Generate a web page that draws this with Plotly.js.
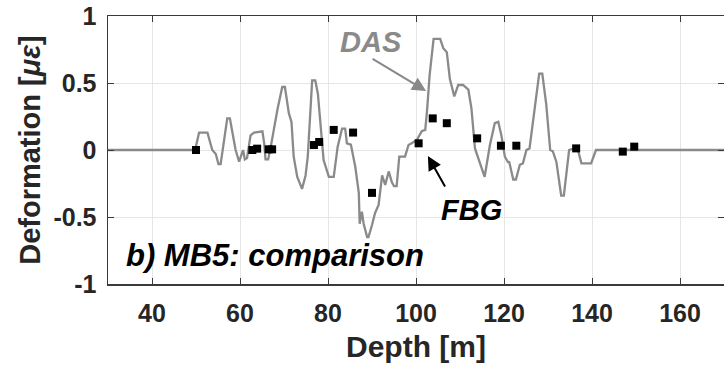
<!DOCTYPE html>
<html>
<head>
<meta charset="utf-8">
<script src="https://cdn.plot.ly/plotly-3.0.1.min.js"></script>
<style>html,body{margin:0;padding:0;background:#fff;}#chart{width:724px;height:370px;}</style>
</head>
<body>
<div id="chart"></div>
<script>
// DAS profile: depth [m] and deformation [µε]
const dasDepth = [30,49.8,50.7,52.6,53.7,54.5,55.1,55.6,57.1,57.7,59.0,59.8,60.7,61.1,61.6,62.4,63.2,65.1,65.5,65.8,66.4,67.0,68.5,69.6,70.2,71.1,71.7,72.2,73.0,74.1,74.9,75.4,76.4,77.1,77.7,78.3,79.0,80.2,81.3,82.2,83.2,83.9,84.3,85.2,86.2,87.0,87.2,87.7,88.1,88.9,89.2,90.0,90.7,91.5,92.3,93.0,93.8,94.5,95.0,95.6,96.2,97.5,98.3,99.0,100.2,101.3,102.1,102.5,103.1,104.0,105.5,106.2,107.0,107.7,108.7,109.6,110.7,111.9,112.6,113.4,114.5,115.6,116.8,117.9,118.7,119.4,120.2,120.9,121.2,122.1,122.7,123.6,124.3,125.1,125.8,127.0,128.0,128.7,129.6,130.5,131.1,131.9,132.6,133.0,133.6,134.2,134.8,135.7,136.8,137.6,139.8,140.9,170];
const dasValue = [0,0,0.13,0.13,0.0,-0.03,-0.105,-0.105,0.236,0.236,0.0,-0.087,0.0,-0.07,-0.06,0.11,0.13,0.14,0.05,-0.07,-0.07,0.025,0.3,0.47,0.47,0.275,0.21,-0.05,-0.2,-0.29,-0.19,-0.05,0.52,0.52,0.42,0.17,-0.075,-0.2,-0.2,0.025,0.16,0.16,0.05,0.04,-0.125,-0.32,-0.55,-0.46,-0.55,-0.65,-0.65,-0.56,-0.47,-0.41,-0.19,-0.26,-0.16,-0.24,-0.27,-0.27,-0.05,-0.05,0.037,0.05,0.075,0.14,0.15,0.29,0.56,0.83,0.83,0.76,0.73,0.53,0.4,0.485,0.485,0.45,0.31,0.012,-0.087,-0.2,0.037,0.2,0.21,0.11,-0.05,-0.09,-0.09,-0.22,-0.22,-0.11,-0.1,0.0,0.012,0.34,0.57,0.57,0.34,0.0,-0.01,-0.087,-0.25,-0.34,-0.34,-0.17,0.0,0.01,0.0,-0.1,-0.1,0.0,0];

// FBG point measurements
const fbgDepth = [50,62.8,63.9,66.5,67.3,76.8,78,81.3,85.7,90,100.6,103.8,107,113.9,119.3,122.8,136.4,147,149.6];
const fbgValue = [0,0,0.01,0.005,0.005,0.037,0.06,0.15,0.13,-0.32,0.05,0.236,0.2,0.087,0.032,0.032,0.012,-0.012,0.025];

const xTicks = [40,60,80,100,120,140,160];
const yTicks = [-1,-0.5,0,0.5,1];
const yTickText = ['-1','-0.5','0','0.5','1'];

const FONT = 'Liberation Sans, Arial, Helvetica, sans-serif';
const axisCol = '#262626';

const traces = [
  {x: dasDepth, y: dasValue, type: 'scatter', mode: 'lines', name: 'DAS',
   line: {color: '#8a8a8a', width: 2.3}, hoverinfo: 'skip'},
  {x: fbgDepth, y: fbgValue, type: 'scatter', mode: 'markers', name: 'FBG',
   marker: {symbol: 'square', size: 8, color: '#000000'}, hoverinfo: 'skip'}
];

const layout = {
  width: 724, height: 370,
  margin: {l: 108, r: 0, t: 16, b: 86},
  paper_bgcolor: '#ffffff', plot_bgcolor: '#ffffff',
  showlegend: false,
  font: {family: FONT, color: axisCol},
  xaxis: {
    range: [30, 170], tickvals: xTicks, ticktext: xTicks.map(String),
    showgrid: true, gridcolor: '#e6e6e6', gridwidth: 1,
    zeroline: false, showline: true, linecolor: '#3a3a3a', linewidth: 1.5,
    mirror: 'ticks', ticks: 'inside', ticklen: 6, tickcolor: '#3a3a3a', tickwidth: 1,
    ticklabelstandoff: 6,
    tickfont: {family: FONT, size: 25, color: axisCol, weight: 'bold'},
    title: {text: '<b>Depth [m]</b>', font: {family: FONT, size: 30, color: axisCol}, standoff: 10}
  },
  yaxis: {
    range: [-1, 1], tickvals: yTicks, ticktext: yTickText,
    showgrid: true, gridcolor: '#e6e6e6', gridwidth: 1,
    zeroline: false, showline: true, linecolor: '#3a3a3a', linewidth: 1.5,
    mirror: 'ticks', ticks: 'inside', ticklen: 6, tickcolor: '#3a3a3a', tickwidth: 1,
    ticklabelstandoff: 5,
    tickfont: {family: FONT, size: 25, color: axisCol, weight: 'bold'},
    title: {text: '<b>Deformation [<i>με</i>]</b>', font: {family: FONT, size: 29, color: axisCol}, standoff: 4}
  },
  annotations: [
    {x: 102.3, y: 0.44, xref: 'x', yref: 'y', ax: -55, ay: -33, showarrow: true,
     arrowhead: 2, arrowsize: 1.4, arrowwidth: 2, arrowcolor: '#888888', text: ''},
    {x: 102.7, y: -0.045, xref: 'x', yref: 'y', ax: 18, ay: 32, showarrow: true,
     arrowhead: 2, arrowsize: 1.4, arrowwidth: 2, arrowcolor: '#000000', text: ''},
    {x: 89.8, y: 0.806, xref: 'x', yref: 'y', showarrow: false,
     text: '<b><i>DAS</i></b>', font: {family: FONT, size: 29, color: '#8a8a8a'}},
    {x: 112.5, y: -0.45, xref: 'x', yref: 'y', showarrow: false,
     text: '<b><i>FBG</i></b>', font: {family: FONT, size: 29, color: '#000000'}},
    {x: 33.6, y: -0.79, xref: 'x', yref: 'y', xanchor: 'left', showarrow: false,
     text: '<b><i>b) MB5: comparison</i></b>', font: {family: FONT, size: 31, color: '#000000'}}
  ]
};

Plotly.newPlot('chart', traces, layout, {displayModeBar: false, staticPlot: true});
</script>
</body>
</html>
